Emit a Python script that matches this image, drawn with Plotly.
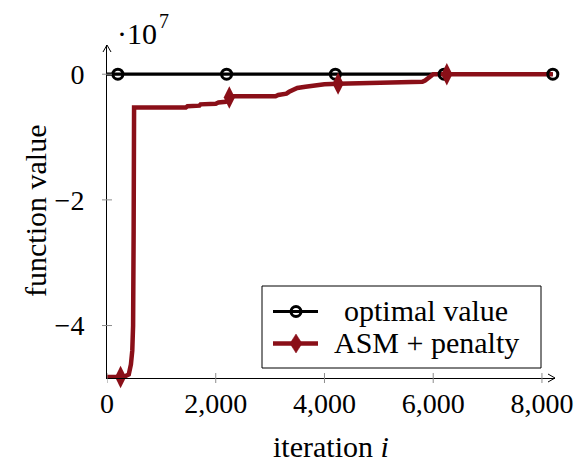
import plotly.graph_objects as go

# ---- data (function values in absolute units) ----
opt_x = [0, 200, 2200, 4200, 6200, 8200]
opt_y = [0, 0, 0, 0, 0, 0]
opt_mark_x = [200, 2200, 4200, 6200, 8200]

asm_x = [0, 250, 300, 400, 440, 465, 480, 490, 498, 1450, 1480, 1700, 1720,
         2000, 2050, 2180, 2220, 2250, 2300, 3100, 3150, 3300, 3350, 3450,
         3500, 3650, 3800, 4000, 4250, 4500, 5800, 5850, 5900, 5950, 6000,
         6250, 8200]
asm_y_e7 = [-4.82, -4.82, -4.82, -4.78, -4.62, -4.40, -4.0, -2.5, -0.53,
            -0.53, -0.51, -0.50, -0.48, -0.47, -0.45, -0.44, -0.38, -0.37,
            -0.35, -0.35, -0.33, -0.31, -0.28, -0.25, -0.22, -0.20, -0.18,
            -0.16, -0.15, -0.145, -0.12, -0.10, -0.06, -0.03, 0.0, 0.0, 0.0]
asm_y = [v * 1e7 for v in asm_y_e7]
asm_mark_x = [250, 2250, 4250, 6250]

x_ticks = [0, 2000, 4000, 6000, 8000]
x_ticklabels = ["0", "2,000", "4,000", "6,000", "8,000"]
y_ticks = [-4e7, -2e7, 0]
y_ticklabels = ["\u22124", "\u22122", "0"]

X_RANGE = [0, 8240]
Y_RANGE = [-4.835e7, 0.465e7]

# ---- geometry ----
W, H = 584, 463
L, R, T, B = 107, 29, 45, 85
PW, PH = W - L - R, H - T - B

RED = "#8a0f18"
TICK = "#8c8c8c"
FONT = "Liberation Serif, Times New Roman, serif"


def fx(px):
    return (px - L) / PW


def fy(py):
    return 1 - (py - T) / PH


def f(size):
    return dict(family=FONT, size=size, color="black")


opt_mx = [x for x in opt_x if x in opt_mark_x]
opt_my = [y for x, y in zip(opt_x, opt_y) if x in opt_mark_x]
asm_mx = [x for x in asm_x if x in asm_mark_x]
asm_my = [y for x, y in zip(asm_x, asm_y) if x in asm_mark_x]

fig = go.Figure()
fig.add_trace(go.Scatter(x=opt_x, y=opt_y, mode="lines",
                         line=dict(color="black", width=3.2),
                         showlegend=False, hoverinfo="skip"))
fig.add_trace(go.Scatter(x=asm_x, y=asm_y, mode="lines",
                         line=dict(color=RED, width=4.5, shape="linear"),
                         showlegend=False, hoverinfo="skip"))
fig.add_trace(go.Scatter(x=opt_mx, y=opt_my, mode="markers", cliponaxis=False,
                         marker=dict(symbol="circle-open", size=10, color="black",
                                     line=dict(width=3, color="black")),
                         showlegend=False, hoverinfo="skip"))
fig.add_trace(go.Scatter(x=asm_mx, y=asm_my, mode="markers", cliponaxis=False,
                         marker=dict(symbol="diamond-tall", size=16, color=RED,
                                     line=dict(width=0)),
                         showlegend=False, hoverinfo="skip"))

shapes = []
# tick marks crossing the axes
for v in x_ticks:
    shapes.append(dict(type="line", xref="x", yref="paper", x0=v, x1=v,
                       y0=-5 / PH, y1=5 / PH, line=dict(color=TICK, width=1)))
for v in y_ticks:
    shapes.append(dict(type="line", xref="paper", yref="y", x0=-5 / PW, x1=5 / PW,
                       y0=v, y1=v, line=dict(color=TICK, width=1)))


def path(points):
    return "M " + " L ".join(f"{fx(a)},{fy(b)}" for a, b in points)


# arrow heads at the axis ends
shapes.append(dict(type="path", xref="paper", yref="paper",
                   path=path([(548, 374), (555, 378), (548, 382)]),
                   line=dict(color="black", width=1)))
shapes.append(dict(type="path", xref="paper", yref="paper",
                   path=path([(103, 52), (107, 45), (111, 52)]),
                   line=dict(color="black", width=1)))

# legend box
shapes.append(dict(type="rect", xref="paper", yref="paper",
                   x0=fx(262), x1=fx(541), y0=fy(368), y1=fy(286),
                   line=dict(color="black", width=1), fillcolor="white"))
r1, r2 = 311.5, 343.5
shapes.append(dict(type="line", xref="paper", yref="paper",
                   x0=fx(273), x1=fx(318), y0=fy(r1), y1=fy(r1),
                   line=dict(color="black", width=3.2)))
shapes.append(dict(type="circle", xref="paper", yref="paper",
                   x0=fx(291), x1=fx(301), y0=fy(r1 + 5), y1=fy(r1 - 5),
                   line=dict(color="black", width=3)))
shapes.append(dict(type="line", xref="paper", yref="paper",
                   x0=fx(273), x1=fx(318), y0=fy(r2), y1=fy(r2),
                   line=dict(color=RED, width=4.5)))
shapes.append(dict(type="path", xref="paper", yref="paper",
                   path=path([(296, r2 - 9.5), (302, r2), (296, r2 + 9.5), (290, r2)]) + " Z",
                   fillcolor=RED, line=dict(color=RED, width=0.5)))

annotations = [
    dict(text="optimal value", x=fx(426), y=fy(r1 - 1), xref="paper", yref="paper",
         showarrow=False, xanchor="center", yanchor="middle", font=f(30)),
    dict(text="ASM + penalty", x=fx(426), y=fy(r2 - 1), xref="paper", yref="paper",
         showarrow=False, xanchor="center", yanchor="middle", font=f(30)),
    dict(text="function value", x=fx(35), y=fy(211), xref="paper", yref="paper",
         showarrow=False, textangle=-90, xanchor="center", yanchor="middle", font=f(30)),
    dict(text="iteration <i>i</i>", x=fx(331), y=fy(446), xref="paper", yref="paper",
         showarrow=False, xanchor="center", yanchor="middle", font=f(30)),
    # axis multiplier: base and exponent
    dict(text="\u00b710", x=fx(115), y=fy(34), xref="paper", yref="paper",
         showarrow=False, xanchor="left", yanchor="middle", font=f(30)),
    dict(text="7", x=fx(157), y=fy(21), xref="paper", yref="paper",
         showarrow=False, xanchor="left", yanchor="middle", font=f(20)),
]

fig.update_layout(
    width=W, height=H,
    margin=dict(l=L, r=R, t=T, b=B, pad=0),
    paper_bgcolor="white", plot_bgcolor="white",
    showlegend=False,
    shapes=shapes,
    annotations=annotations,
    font=f(28),
)
fig.update_xaxes(range=X_RANGE, tickvals=x_ticks, ticktext=x_ticklabels,
                 showgrid=False, zeroline=False, showline=True,
                 linecolor="black", linewidth=1, ticks="", ticklabelstandoff=0,
                 tickfont=f(28))
fig.update_yaxes(range=Y_RANGE, tickvals=y_ticks, ticktext=y_ticklabels,
                 showgrid=False, zeroline=False, showline=True,
                 linecolor="black", linewidth=1, ticks="", ticklabelstandoff=16,
                 tickfont=f(28))

fig.write_html("out.html")
